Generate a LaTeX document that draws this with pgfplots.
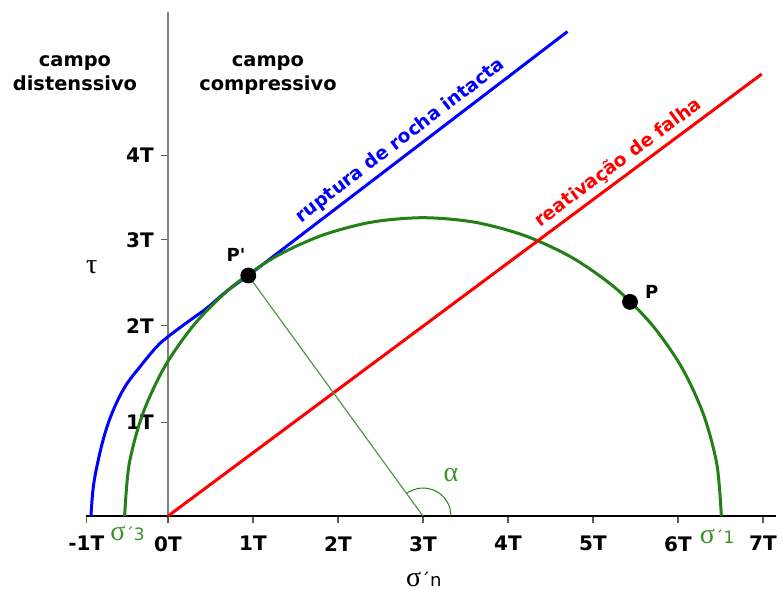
\documentclass[border=0pt]{standalone}
\usepackage{pgfplots}
\pgfplotsset{compat=1.18}
\usepackage{fontspec}
\setmainfont{DejaVu Sans}
\newfontfamily\greekf{Liberation Serif}
\definecolor{cgreen}{RGB}{34,128,22}
\definecolor{tgreen}{RGB}{60,145,40}
\begin{document}
\begin{tikzpicture}
\begin{axis}[
  x=42.5pt, y=42.5pt,
  xmin=-0.97, xmax=7.15, ymin=0, ymax=5.93,
  axis lines=middle,
  axis line style={-},
  x axis line style={black, line width=0.6pt},
  y axis line style={gray, line width=0.9pt},
  xtick={-0.96,0,1,2,3,4,5,6,7},
  xticklabels={-1T,0T,1T,2T,3T,4T,5T,6T,7T},
  ytick={1.10,2.24,3.25,4.24},
  yticklabels={1T,2T,3T,4T},
  tick align=outside,
  major tick length=3.6pt,
  hide obscured x ticks=false,
  hide obscured y ticks=false,
  tick style={gray!70!black, line width=0.6pt},
  xticklabel style={font=\bfseries\fontsize{10}{12}\selectfont, yshift=-3pt},
  yticklabel style={font=\bfseries\fontsize{10}{12}\selectfont},
  clip=false,
]
% bounding box corners
\coordinate (bl) at (axis cs:-1.976,-0.859);
\coordinate (tr) at (axis cs:7.235,6.071);

% blue envelope: curved part and straight part
\addplot[blue, line width=1.5pt, smooth, tension=0.6] coordinates {
 (-0.906,0) (-0.878,0.345) (-0.82,0.659) (-0.741,0.973) (-0.643,1.247) (-0.506,1.521)
 (-0.329,1.757) (-0.133,1.992) (0.0,2.11) (0.22,2.275) (0.455,2.445) (0.69,2.645) (0.945,2.83)};
\addplot[blue, line width=1.5pt] coordinates {(0.945,2.83) (4.70,5.70)};

% Mohr circle
\addplot[cgreen, line width=1.5pt, smooth] coordinates {
 (6.51,0) (6.457,0.609) (6.298,1.200) (6.040,1.755) (5.689,2.256) (5.256,2.689)
 (4.755,3.040) (4.200,3.298) (3.609,3.457) (3,3.51) (2.391,3.457) (1.800,3.298)
 (1.245,3.040) (0.744,2.689) (0.311,2.256) (-0.040,1.755) (-0.298,1.200)
 (-0.457,0.609) (-0.51,0)};

% red line
\addplot[red, line width=1.5pt] coordinates {(0,0) (6.985,5.2)};

% radius to P'
\addplot[cgreen!80!white, line width=0.6pt] coordinates {(0.945,2.83) (3,0)};
% angle arc
\addplot[cgreen, line width=0.5pt, smooth] coordinates {
 (3.33,0) (3.310,0.113) (3.253,0.212) (3.165,0.286) (3.057,0.325) (2.943,0.325) (2.835,0.286) (2.806,0.267)};

% points
\addplot[only marks, mark=*, mark size=3.75pt, black] coordinates {(0.945,2.83) (5.435,2.52)};

% texts
\node[font=\bfseries\fontsize{9.7}{12}\selectfont, align=center] at (axis cs:-1.094,5.205) {campo\\distenssivo};
\node[font=\bfseries\fontsize{9.7}{12}\selectfont, align=center] at (axis cs:1.176,5.188) {campo\\compressivo};
\node[rotate=37.4, anchor=south, inner sep=2.5pt, text=blue, font=\bfseries\fontsize{9.3}{11}\selectfont] at (axis cs:2.84,4.28) {ruptura de rocha intacta};
\node[rotate=36.65, anchor=south, inner sep=2.5pt, text=red, font=\bfseries\fontsize{9.3}{11}\selectfont] at (axis cs:5.4,4.02) {reativação de falha};
\node[font=\bfseries\fontsize{9}{10}\selectfont] at (axis cs:0.8,3.07) {P\textquotesingle};
\node[font=\bfseries\fontsize{9}{10}\selectfont] at (axis cs:5.69,2.635) {P};
\node at (axis cs:-0.898,2.933) {\greekf\fontsize{14}{14}\selectfont τ};
\node[inner sep=1pt] at (axis cs:3.01,-0.74) {{\greekf\fontsize{14}{14}\selectfont σ}{\fontsize{9}{9}\selectfont ´n}};
\node[text=tgreen] at (axis cs:-0.476,-0.2) {{\greekf\fontsize{14}{14}\selectfont σ}{\fontsize{8.5}{9}\selectfont ´3}};
\node[text=tgreen] at (axis cs:6.46,-0.235) {{\greekf\fontsize{14}{14}\selectfont σ}{\fontsize{8.5}{9}\selectfont ´1}};
\node[text=tgreen] at (axis cs:3.33,0.482) {\greekf\fontsize{14}{14}\selectfont α};
\end{axis}
\pgfresetboundingbox
\path[use as bounding box] (bl) rectangle (tr);
\end{tikzpicture}
\end{document}
